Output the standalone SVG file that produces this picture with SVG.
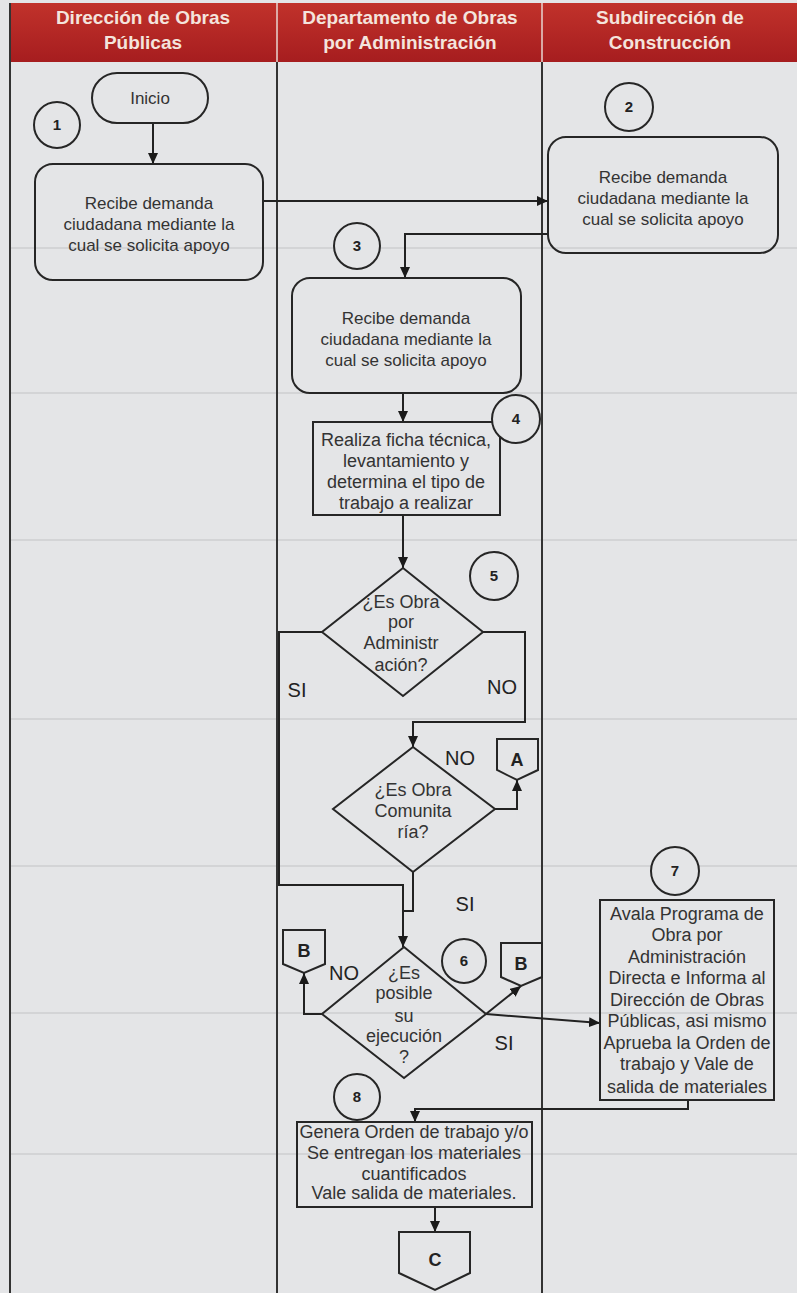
<svg xmlns="http://www.w3.org/2000/svg" width="797" height="1293" viewBox="0 0 797 1293">
<style>
.t{font-family:"Liberation Sans",Arial,sans-serif;font-size:18px;fill:#333;text-anchor:middle}
.s17{font-size:17px}
.num{font-weight:bold;font-size:15px;fill:#222}
.lbl{font-size:20px;fill:#222}
.let{font-weight:bold;font-size:18px;fill:#222}
.hdr{font-family:"Liberation Sans",Arial,sans-serif;font-weight:bold;font-size:19px;fill:#f4e4dd;text-anchor:middle}
.shape{fill:none;stroke:#262626;stroke-width:2}
.circ{fill:#e4e5e7;stroke:#262626;stroke-width:2}
.lane{stroke:#333;stroke-width:2}
.bgl{stroke:#c2c3c5;stroke-width:1}
.conn{fill:none;stroke:#222;stroke-width:2}
.arr{marker-end:url(#arr)}
</style>
<defs>
<linearGradient id="hg" x1="0" y1="0" x2="0" y2="1">
<stop offset="0" stop-color="#c1322b"/>
<stop offset="1" stop-color="#a61d1f"/>
</linearGradient>
<marker id="arr" markerUnits="userSpaceOnUse" markerWidth="11" markerHeight="10" refX="11" refY="5" orient="auto">
<path d="M0,0 L11,5 L0,10 z" fill="#1a1a1a"/>
</marker>
</defs>
<rect x="0" y="0" width="797" height="1293" fill="#e4e5e7"/>
<g id="background-lines">
<line class="bgl" x1="10" y1="248" x2="797" y2="248"/>
<line class="bgl" x1="10" y1="393" x2="797" y2="393"/>
<line class="bgl" x1="10" y1="540" x2="797" y2="540"/>
<line class="bgl" x1="10" y1="719" x2="797" y2="719"/>
<line class="bgl" x1="10" y1="866" x2="797" y2="866"/>
<line class="bgl" x1="10" y1="1013" x2="797" y2="1013"/>
<line class="bgl" x1="10" y1="1154" x2="797" y2="1154"/>
</g>
<g id="header">
<rect x="10" y="3" width="787" height="59" fill="url(#hg)"/>
<line x1="277" y1="3" x2="277" y2="62" stroke="#e9d6d0" stroke-width="1.5"/>
<line x1="542" y1="3" x2="542" y2="62" stroke="#e9d6d0" stroke-width="1.5"/>
<text class="hdr" x="143" y="24">Dirección de Obras</text>
<text class="hdr" x="143" y="49">Públicas</text>
<text class="hdr" x="410" y="24">Departamento de Obras</text>
<text class="hdr" x="410" y="49">por Administración</text>
<text class="hdr" x="670" y="24">Subdirección de</text>
<text class="hdr" x="670" y="49">Construcción</text>
</g>
<g id="lanes">
<line class="lane" x1="10" y1="3" x2="10" y2="1293"/>
<line class="lane" x1="277" y1="62" x2="277" y2="1293"/>
<line class="lane" x1="542" y1="62" x2="542" y2="1293"/>
</g>
<g id="connectors">
<path class="conn arr" d="M153,123 V164"/>
<path class="conn arr" d="M263,201 H548"/>
<path class="conn arr" d="M548,234 H405 V278"/>
<path class="conn arr" d="M403,393 V422"/>
<path class="conn arr" d="M403,515 V568"/>
<path class="conn arr" d="M322,632 H279 V885 H403 V947"/>
<path class="conn arr" d="M483,632 H525 V722 H413 V747"/>
<path class="conn arr" d="M495,809 H517 V780"/>
<path class="conn" d="M413,872 V911 H403"/>
<path class="conn arr" d="M322,1014 H304 V973"/>
<path class="conn arr" d="M486,1014 L521,986"/>
<path class="conn arr" d="M486,1014 L600,1023"/>
<path class="conn arr" d="M688,1100 V1109 H415 V1122"/>
<path class="conn arr" d="M435,1207 V1232"/>
</g>
<g id="inicio">
<rect class="shape" x="92" y="73" width="116" height="50" rx="25"/>
<text class="t s17" x="150" y="104">Inicio</text>
</g>
<g id="step1-num"><circle class="circ" cx="57" cy="125" r="23"/><text class="t num" x="57" y="130">1</text></g>
<g id="step1">
<rect class="shape" x="35" y="164" width="228" height="116" rx="18"/>
<text class="t s17" x="149" y="209">Recibe demanda</text>
<text class="t s17" x="149" y="230">ciudadana mediante  la</text>
<text class="t s17" x="149" y="251">cual se solicita apoyo</text>
</g>
<g id="step2-num"><circle class="circ" cx="629" cy="107" r="24"/><text class="t num" x="629" y="112">2</text></g>
<g id="step2">
<rect class="shape" x="548" y="137" width="230" height="116" rx="18"/>
<text class="t s17" x="663" y="183">Recibe demanda</text>
<text class="t s17" x="663" y="204">ciudadana mediante  la</text>
<text class="t s17" x="663" y="225">cual se solicita apoyo</text>
</g>
<g id="step3-num"><circle class="circ" cx="357" cy="246" r="23"/><text class="t num" x="357" y="251">3</text></g>
<g id="step3">
<rect class="shape" x="292" y="278" width="229" height="115" rx="18"/>
<text class="t s17" x="406" y="324">Recibe demanda</text>
<text class="t s17" x="406" y="345">ciudadana mediante  la</text>
<text class="t s17" x="406" y="366">cual se solicita apoyo</text>
</g>
<g id="step4">
<rect class="shape" x="313" y="422" width="187" height="93"/>
<text class="t" x="406" y="446">Realiza  ficha técnica,</text>
<text class="t" x="406" y="467">levantamiento y</text>
<text class="t" x="406" y="488">determina el tipo de</text>
<text class="t" x="406" y="509">trabajo a realizar</text>
</g>
<g id="step4-num"><circle class="circ" cx="516" cy="419" r="24"/><text class="t num" x="516" y="424">4</text></g>
<g id="step5-num"><circle class="circ" cx="494" cy="576" r="24"/><text class="t num" x="494" y="581">5</text></g>
<g id="decision5">
<path class="shape" d="M403,568 L483,632 L403,696 L322,632 Z"/>
<text class="t" x="401" y="608">¿Es Obra</text>
<text class="t" x="401" y="628">por</text>
<text class="t" x="401" y="649">Administr</text>
<text class="t" x="401" y="671">ación?</text>
</g>
<g id="labels">
<text class="t lbl" x="297" y="697">SI</text>
<text class="t lbl" x="502" y="694">NO</text>
<text class="t lbl" x="460" y="765">NO</text>
<text class="t lbl" x="465" y="911">SI</text>
<text class="t lbl" x="344" y="980">NO</text>
<text class="t lbl" x="504" y="1050">SI</text>
</g>
<g id="decision7">
<path class="shape" d="M413,747 L495,809 L413,872 L333,809 Z"/>
<text class="t" x="413" y="796">¿Es Obra</text>
<text class="t" x="413" y="817">Comunita</text>
<text class="t" x="413" y="838">ría?</text>
</g>
<g id="connector-A">
<path class="shape" d="M497,739 H538 V770 L517,780 L497,770 Z"/>
<text class="t let" x="517" y="766">A</text>
</g>
<g id="step6-num"><circle class="circ" cx="464" cy="961" r="22"/><text class="t num" x="464" y="966">6</text></g>
<g id="decision6">
<path class="shape" d="M404,947 L486,1014 L404,1078 L322,1014 Z"/>
<text class="t" x="404" y="979">¿Es</text>
<text class="t" x="404" y="999">posible</text>
<text class="t" x="404" y="1022">su</text>
<text class="t" x="404" y="1042">ejecución</text>
<text class="t" x="404" y="1063">?</text>
</g>
<g id="connector-B-left">
<path class="shape" d="M283,930 H325 V964 L304,973 L283,964 Z"/>
<text class="t let" x="304" y="957">B</text>
</g>
<g id="connector-B-right">
<path class="shape" d="M501,943 H542 V977 L521,986 L501,977 Z"/>
<text class="t let" x="521" y="970">B</text>
</g>
<g id="step7-num"><circle class="circ" cx="675" cy="871" r="24"/><text class="t num" x="675" y="876">7</text></g>
<g id="step7">
<rect class="shape" x="600" y="900" width="174" height="200"/>
<text class="t" x="687" y="920">Avala Programa de</text>
<text class="t" x="687" y="941">Obra por</text>
<text class="t" x="687" y="963">Administración</text>
<text class="t" x="687" y="984">Directa e Informa al</text>
<text class="t" x="687" y="1006">Dirección de Obras</text>
<text class="t" x="687" y="1027">Públicas, asi mismo</text>
<text class="t" x="687" y="1049">Aprueba la Orden de</text>
<text class="t" x="687" y="1070">trabajo y Vale de</text>
<text class="t" x="687" y="1093">salida de materiales</text>
</g>
<g id="step8-num"><circle class="circ" cx="357" cy="1097" r="23"/><text class="t num" x="357" y="1102">8</text></g>
<g id="step8">
<rect class="shape" x="297" y="1122" width="235" height="85"/>
<text class="t" x="414" y="1138">Genera Orden de trabajo y/o</text>
<text class="t" x="414" y="1159">Se entregan los materiales</text>
<text class="t" x="414" y="1180">cuantificados</text>
<text class="t" x="414" y="1199">Vale salida de materiales.</text>
</g>
<g id="connector-C">
<path class="shape" d="M399,1232 H470 V1273 L435,1290 L399,1273 Z"/>
<text class="t let" x="435" y="1266">C</text>
</g>
</svg>
